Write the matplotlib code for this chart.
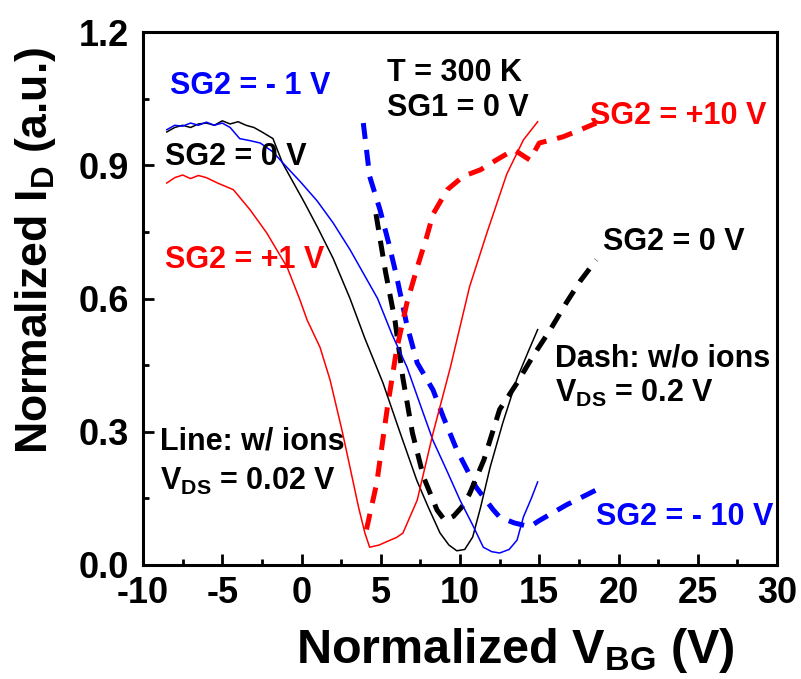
import matplotlib
matplotlib.use("Agg")
import matplotlib.pyplot as plt

plt.rcParams['font.family'] = ['Liberation Sans', 'DejaVu Sans']
plt.rcParams['font.weight'] = 'bold'
plt.rcParams['axes.unicode_minus'] = False
plt.rcParams['mathtext.fontset'] = 'custom'
plt.rcParams['mathtext.rm'] = 'Liberation Sans:bold'
plt.rcParams['mathtext.it'] = 'Liberation Sans:bold'
plt.rcParams['mathtext.bf'] = 'Liberation Sans:bold'

# solid lines: with ions, VDS = 0.02 V
x_line_0 = [-8.5, -8.0, -7.5, -7.0, -6.5, -6.0, -5.5, -5.0, -4.5, -4.0, -3.5, -3.0, -2.5, -1.8, -1.2,
            -0.5, 0.2, 1.0, 2.0, 3.06, 4.0, 5.14, 6.2, 7.28, 8.0, 8.74, 9.3, 9.8, 10.3, 10.8, 11.3, 11.9,
            12.7, 13.6, 14.3, 14.9]
y_line_0 = [0.975, 0.985, 0.99, 0.985, 0.993, 0.995, 0.99, 1.0, 0.993, 0.998, 0.99, 0.985, 0.975, 0.96,
            0.905, 0.86, 0.815, 0.761, 0.69, 0.6, 0.51, 0.41, 0.3, 0.19, 0.13, 0.072, 0.045, 0.032, 0.035,
            0.063, 0.13, 0.22, 0.32, 0.42, 0.48, 0.53]

x_line_m1 = [-8.5, -8.0, -7.5, -7.0, -6.5, -6.0, -5.5, -5.0, -4.5, -3.9, -3.2, -2.6, -1.8, -1.17, 0.0,
             0.98, 2.0, 3.06, 4.8, 5.7, 6.65, 7.5, 8.3, 9.2, 10.0, 10.8, 11.47, 12.0, 12.5, 13.1, 13.6, 14.0,
             14.5, 14.9]
y_line_m1 = [0.98, 0.99, 0.988, 0.995, 0.99, 0.997, 0.99, 0.995, 0.985, 0.96, 0.955, 0.95, 0.93, 0.905,
             0.86, 0.82, 0.77, 0.71, 0.6, 0.52, 0.446, 0.36, 0.28, 0.21, 0.146, 0.09, 0.04, 0.03, 0.027,
             0.035, 0.056, 0.108, 0.15, 0.187]

x_line_p1 = [-8.5, -8.0, -7.5, -7.0, -6.5, -6.0, -5.3, -4.3, -3.25, -2.2, -0.9, -0.1, 0.35, 1.17, 1.8,
             2.55, 3.06, 3.6, 4.0, 4.3, 4.9, 5.6, 6.0, 6.4, 7.3, 8.3, 9.4, 10.6, 11.7, 12.95, 14.0, 14.9]
y_line_p1 = [0.86, 0.872, 0.878, 0.87, 0.877, 0.872, 0.86, 0.845, 0.8, 0.748, 0.67, 0.597, 0.552, 0.49,
             0.417, 0.304, 0.22, 0.13, 0.072, 0.04, 0.045, 0.056, 0.062, 0.072, 0.146, 0.297, 0.446,
             0.626, 0.748, 0.88, 0.957, 0.998]

# dashed lines: without ions, VDS = 0.2 V
x_dash_0 = [4.7, 5.3, 5.9, 6.4, 7.0, 7.7, 8.55, 9.05, 9.6, 10.1, 10.6, 11.5, 12.5, 13.6, 14.6, 15.7, 16.7,
            17.6, 18.6]
y_dash_0 = [0.79, 0.66, 0.55, 0.42, 0.297, 0.198, 0.124, 0.1, 0.11, 0.13, 0.16, 0.236, 0.35, 0.41, 0.47,
            0.53, 0.59, 0.64, 0.687]

x_dash_m10 = [3.9, 4.3, 4.95, 5.5, 6.0, 6.65, 7.3, 8.3, 8.95, 9.8, 11.0, 12.1, 12.5, 13.4, 14.4, 15.0,
              16.7, 18.6]
y_dash_m10 = [0.995, 0.875, 0.8, 0.725, 0.65, 0.54, 0.455, 0.394, 0.333, 0.259, 0.176, 0.124, 0.108,
              0.095, 0.086, 0.1, 0.135, 0.169]

x_dash_p10 = [4.1, 4.75, 5.4, 6.0, 6.65, 7.3, 7.9, 8.3, 9.2, 10.2, 11.3, 12.3, 13.4, 14.4, 15.0, 16.5,
              17.6, 18.6]
y_dash_p10 = [0.08, 0.185, 0.35, 0.485, 0.59, 0.67, 0.739, 0.79, 0.845, 0.875, 0.89, 0.912, 0.935,
              0.912, 0.95, 0.964, 0.98, 0.995]

x_ticks = [-10, -5, 0, 5, 10, 15, 20, 25, 30]
y_ticks = [0.0, 0.3, 0.6, 0.9, 1.2]
y_tick_labels = ['0.0', '0.3', '0.6', '0.9', '1.2']

fig = plt.figure(figsize=(8.01, 6.79), dpi=100)
ax = fig.add_axes([143 / 801, 1 - 565 / 679, 634 / 801, 533 / 679])

lw_dash = 3.6
ax.plot(x_dash_m10, y_dash_m10, color='#0000ff', lw=lw_dash, dashes=(3.2, 2.2))
ax.plot(x_dash_0, y_dash_0, color='black', lw=lw_dash, dashes=(3.2, 2.2))
ax.plot(x_dash_p10, y_dash_p10, color='#ff0000', lw=lw_dash, dashes=(3.2, 2.2))
ax.plot(x_line_0, y_line_0, color='black', lw=1.1)
ax.plot(x_line_m1, y_line_m1, color='#0000ff', lw=1.1)
ax.plot(x_line_p1, y_line_p1, color='#ff0000', lw=1.1)

fs = 22
ax.text(-8.3, 1.06, 'SG2 = - 1 V', color='#0000ff', fontsize=fs, fontweight='bold')
ax.text(5.4, 1.09, 'T = 300 K', color='black', fontsize=fs, fontweight='bold')
ax.text(5.4, 1.01, 'SG1 = 0 V', color='black', fontsize=fs, fontweight='bold')
ax.text(18.2, 0.993, 'SG2 = +10 V', color='#ff0000', fontsize=fs, fontweight='bold')
ax.text(-8.6, 0.901, 'SG2 = 0 V', color='black', fontsize=fs, fontweight='bold')
ax.text(-8.6, 0.669, 'SG2 = +1 V', color='#ff0000', fontsize=fs, fontweight='bold')
ax.text(19.0, 0.709, 'SG2 = 0 V', color='black', fontsize=fs, fontweight='bold')
ax.text(16.0, 0.446, 'Dash: w/o ions', color='black', fontsize=fs, fontweight='bold')
ax.text(16.0, 0.367, r'V$_{\mathregular{DS}}$ = 0.2 V', color='black', fontsize=fs, fontweight='bold')
ax.text(-8.9, 0.259, 'Line: w/ ions', color='black', fontsize=fs, fontweight='bold')
ax.text(-8.9, 0.169, r'V$_{\mathregular{DS}}$ = 0.02 V', color='black', fontsize=fs, fontweight='bold')
ax.text(18.6, 0.09, 'SG2 = - 10 V', color='#0000ff', fontsize=fs, fontweight='bold')

ax.set_xlim(-10, 30)
ax.set_ylim(0, 1.2)
ax.set_xticks(x_ticks)
ax.set_xticks([-7.5, -2.5, 2.5, 7.5, 12.5, 17.5, 22.5, 27.5], minor=True)
ax.set_yticks(y_ticks)
ax.set_yticklabels(y_tick_labels)
ax.set_yticks([0.15, 0.45, 0.75, 1.05], minor=True)
ax.tick_params(which='both', direction='in', width=2, labelsize=26)
ax.tick_params(which='major', length=8)
ax.tick_params(which='minor', length=4)
ax.tick_params(axis='x', pad=8)
ax.tick_params(axis='y', pad=10)
for s in ax.spines.values():
    s.set_linewidth(2.2)

ax.set_xlabel(r'Normalized V$_{\mathregular{BG}}$ (V)', fontsize=35, fontweight='bold')
ax.set_ylabel(r'Normalized I$_{\mathregular{D}}$ (a.u.)', fontsize=32, fontweight='bold', va='center')
ax.xaxis.set_label_coords(0.587, -0.115)
ax.yaxis.set_label_coords(-0.17, 0.59)

fig.savefig('out.png', dpi=100)
